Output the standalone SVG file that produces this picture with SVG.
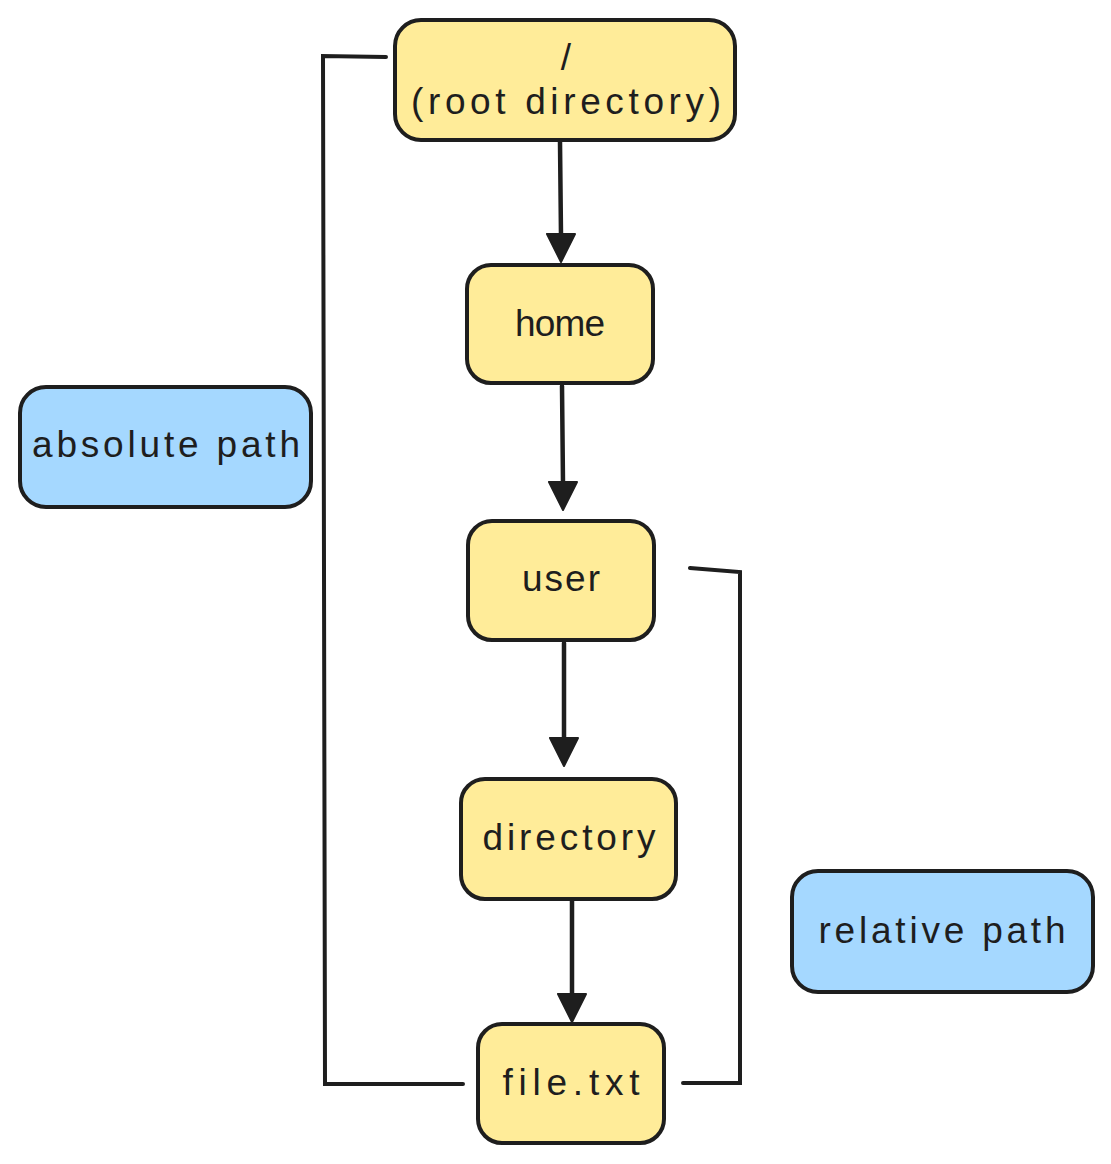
<svg xmlns="http://www.w3.org/2000/svg" width="1111" height="1164" viewBox="0 0 1111 1164">
  <style>
    .dir { fill: #ffec99; stroke: #1e1e1e; stroke-width: 4; }
    .lbl { fill: #a5d8ff; stroke: #1e1e1e; stroke-width: 4; }
    .t { font-family: "Liberation Sans", "DejaVu Sans", sans-serif; font-size: 37px; fill: #1e1e1e; text-anchor: middle; }
    .arrow { fill: none; stroke: #1e1e1e; stroke-width: 4.5; stroke-linecap: round; }
    .bracket { fill: none; stroke: #1e1e1e; stroke-width: 4; stroke-linecap: round; stroke-linejoin: miter; }
    .head { fill: #1e1e1e; stroke: #1e1e1e; stroke-width: 2; stroke-linejoin: round; }
  </style>
  <rect width="1111" height="1164" fill="#ffffff"/>

  <g id="connectors">
    <path class="arrow" d="M560 142 L561 236"/>
    <polygon class="head" points="547,234 575,234 561,262"/>
    <path class="arrow" d="M562 386 L563 484"/>
    <polygon class="head" points="549,482 577,482 563,510"/>
    <path class="arrow" d="M564 643 L564 740"/>
    <polygon class="head" points="550,738 578,738 564,766"/>
    <path class="arrow" d="M572 901 L572 996"/>
    <polygon class="head" points="558,994 586,994 572,1022"/>
    <path class="bracket" d="M386 57 L323 56 L325 1084 L463 1084"/>
    <path class="bracket" d="M690 568 L740 572 L740 1083 L683 1083"/>
  </g>

  <g id="node-root">
    <rect class="dir" x="395" y="20" width="340" height="120" rx="26"/>
    <text class="t" x="566" y="70">/</text>
    <text class="t" x="566" y="114" textLength="310" lengthAdjust="spacing">(root directory)</text>
  </g>

  <g id="node-home">
    <rect class="dir" x="467" y="265" width="186" height="118" rx="24"/>
    <text class="t" x="560" y="336" textLength="90" lengthAdjust="spacing">home</text>
  </g>

  <g id="node-user">
    <rect class="dir" x="468" y="521" width="186" height="119" rx="24"/>
    <text class="t" x="561" y="591" textLength="78" lengthAdjust="spacing">user</text>
  </g>

  <g id="node-directory">
    <rect class="dir" x="461" y="779" width="215" height="120" rx="24"/>
    <text class="t" x="569" y="850" textLength="173" lengthAdjust="spacing">directory</text>
  </g>

  <g id="node-file">
    <rect class="dir" x="478" y="1024" width="186" height="119" rx="24"/>
    <text class="t" x="571" y="1095" textLength="137" lengthAdjust="spacing">file.txt</text>
  </g>

  <g id="label-absolute">
    <rect class="lbl" x="20" y="387" width="291" height="120" rx="26"/>
    <text class="t" x="166" y="457" textLength="268" lengthAdjust="spacing">absolute path</text>
  </g>

  <g id="label-relative">
    <rect class="lbl" x="792" y="871" width="301" height="121" rx="26"/>
    <text class="t" x="942" y="943" textLength="247" lengthAdjust="spacing">relative path</text>
  </g>
</svg>
